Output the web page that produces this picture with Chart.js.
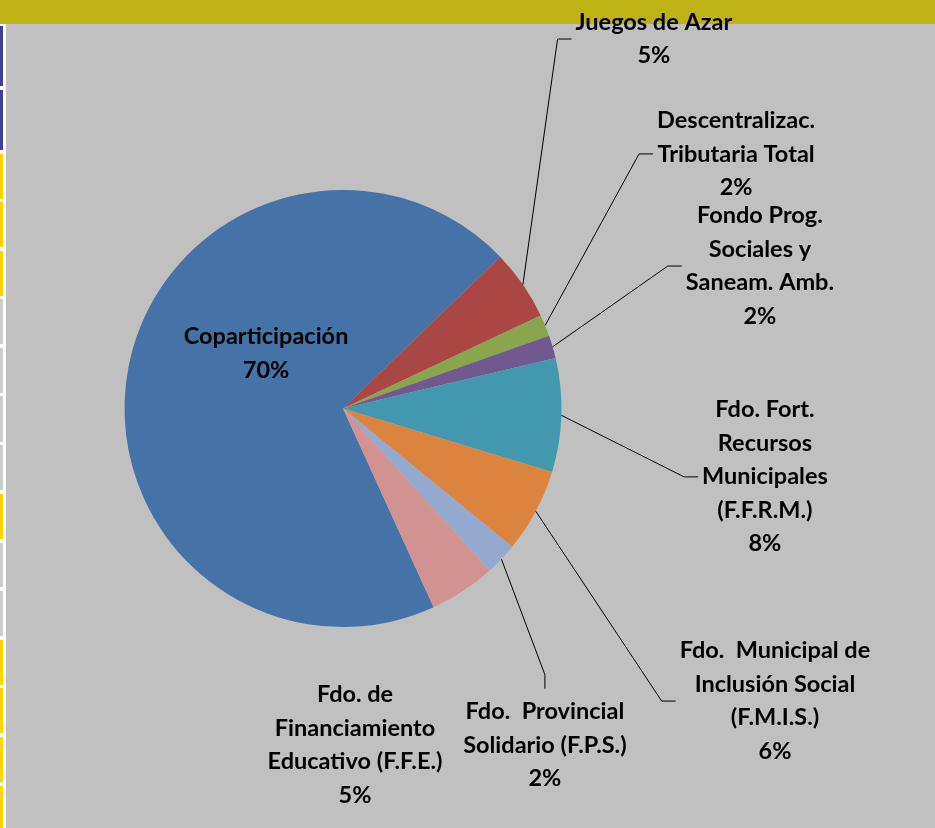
<!DOCTYPE html>
<html>
<head>
<meta charset="utf-8">
<script src="https://cdn.jsdelivr.net/npm/chart.js@4/dist/chart.umd.min.js"></script>
<style>
  html, body { margin: 0; padding: 0; }
  body { width: 935px; height: 828px; background: #c0c0c0; position: relative; overflow: hidden; }
  #topbar { position: absolute; left: 0; top: 0; width: 935px; height: 24px; background: #beb215; }
  #strip { position: absolute; left: 0; top: 24px; width: 6px; height: 804px; background: #ffffff; }
  .cell { position: absolute; left: 0; width: 3px; }
  #c { position: absolute; left: 0; top: 0; }
</style>
</head>
<body>
<div id="topbar"></div>
<div id="strip"></div>
<canvas id="c" width="935" height="828"></canvas>
<script>
// slice data (clockwise, starting with Coparticipación)
const categories = [
    'Coparticipación',
    'Juegos de Azar',
    'Descentralizac. Tributaria Total',
    'Fondo Prog. Sociales y Saneam. Amb.',
    'Fdo. Fort. Recursos Municipales (F.F.R.M.)',
    'Fdo.  Municipal de Inclusión Social (F.M.I.S.)',
    'Fdo.  Provincial Solidario (F.P.S.)',
    'Fdo. de Financiamiento Educativo (F.F.E.)'
];
const values = [69.6, 5.2, 1.6, 1.7, 8.4, 6.2, 2.4, 4.9];

// how each label is broken into lines
const labelLines = [
    ['Coparticipación'],
    ['Juegos de Azar'],
    ['Descentralizac.', 'Tributaria Total'],
    ['Fondo Prog.', 'Sociales y', 'Saneam. Amb.'],
    ['Fdo. Fort.', 'Recursos', 'Municipales', '(F.F.R.M.)'],
    ['Fdo.  Municipal de', 'Inclusión Social', '(F.M.I.S.)'],
    ['Fdo.  Provincial', 'Solidario (F.P.S.)'],
    ['Fdo. de', 'Financiamiento', 'Educativo (F.F.E.)']
];

const colors = ['#4572a7', '#aa4643', '#89a54e', '#71588f', '#4198af', '#db843d', '#93a9cf', '#d19392'];

// label block centre, in pie radii from the pie centre, and leader style
const labelLayout = [
    { dx: -0.352, dy: -0.252, leader: null },
    { dx: 1.423, dy: -1.691, leader: 'left' },
    { dx: 1.799, dy: -1.165, leader: 'left' },
    { dx: 1.908, dy: -0.652, leader: 'left' },
    { dx: 1.931, dy: 0.313, leader: 'left' },
    { dx: 1.977, dy: 1.339, leader: 'left' },
    { dx: 0.924, dy: 1.540, leader: 'top' },
    { dx: 0.055, dy: 1.540, leader: null }
];
const LINE_H = 33.5;

// left-edge spreadsheet cells
const stripCells = [
    [26, 86, '#403d9b'], [90, 150, '#403d9b'], [154, 199, '#ffd200'], [202, 247, '#ffd200'],
    [251, 296, '#ffd200'], [299, 344, '#cccccc'], [348, 393, '#cccccc'], [396, 442, '#cccccc'],
    [445, 490, '#cccccc'], [494, 539, '#ffd200'], [543, 587, '#cccccc'], [591, 636, '#cccccc'],
    [640, 685, '#ffd200'], [688, 733, '#ffd200'], [737, 782, '#ffd200'], [786, 828, '#ffd200']
];
const strip = document.getElementById('strip');
stripCells.forEach(([a, b, col]) => {
    const d = document.createElement('div');
    d.className = 'cell';
    d.style.top = (a - 24) + 'px';
    d.style.height = (b - a) + 'px';
    d.style.background = col;
    strip.appendChild(d);
});

const sliceLabels = {
    id: 'sliceLabels',
    afterDatasetsDraw(chart) {
        const ctx = chart.ctx;
        const meta = chart.getDatasetMeta(0);
        const total = values.reduce((a, b) => a + b, 0);
        ctx.save();
        ctx.font = 'bold 23.5px Lato';
        ctx.fillStyle = '#000';
        ctx.strokeStyle = '#000';
        ctx.lineWidth = 1;
        ctx.textAlign = 'center';
        ctx.textBaseline = 'middle';
        meta.data.forEach((arc, i) => {
            const p = arc.getProps(['x', 'y', 'startAngle', 'endAngle', 'outerRadius'], true);
            const r = p.outerRadius;
            const lay = labelLayout[i];
            const lines = labelLines[i].concat(Math.round(values[i] / total * 100) + '%');
            const cx = p.x + lay.dx * r, cy = p.y + lay.dy * r;
            const top = cy - lines.length * LINE_H / 2;
            lines.forEach((t, k) => ctx.fillText(t, cx, top + LINE_H * (k + 0.5)));

            if (lay.leader) {
                const mid = (p.startAngle + p.endAngle) / 2;
                const ax = p.x + Math.cos(mid) * r, ay = p.y + Math.sin(mid) * r;
                let ex, ey, bx, by;
                if (lay.leader === 'left') {
                    const w = Math.max(...lines.map(t => ctx.measureText(t).width));
                    ex = cx - w / 2 - 4; ey = cy; bx = ex - 14; by = ey;
                } else {
                    ex = cx; ey = top - 6; bx = ex; by = ey - 14;
                }
                ctx.beginPath();
                ctx.moveTo(ax, ay); ctx.lineTo(bx, by); ctx.lineTo(ex, ey);
                ctx.stroke();
            }
        });
        ctx.restore();
    }
};

new Chart(document.getElementById('c'), {
    type: 'pie',
    data: {
        labels: categories,
        datasets: [{ data: values, backgroundColor: colors, borderWidth: 0, hoverOffset: 0 }]
    },
    options: {
        responsive: false,
        animation: false,
        rotation: 155.5,
        layout: { padding: { left: 124.5, right: 373.5, top: 190, bottom: 201 } },
        plugins: { legend: { display: false }, tooltip: { enabled: false } },
        events: []
    },
    plugins: [sliceLabels]
});
</script>
</body>
</html>
